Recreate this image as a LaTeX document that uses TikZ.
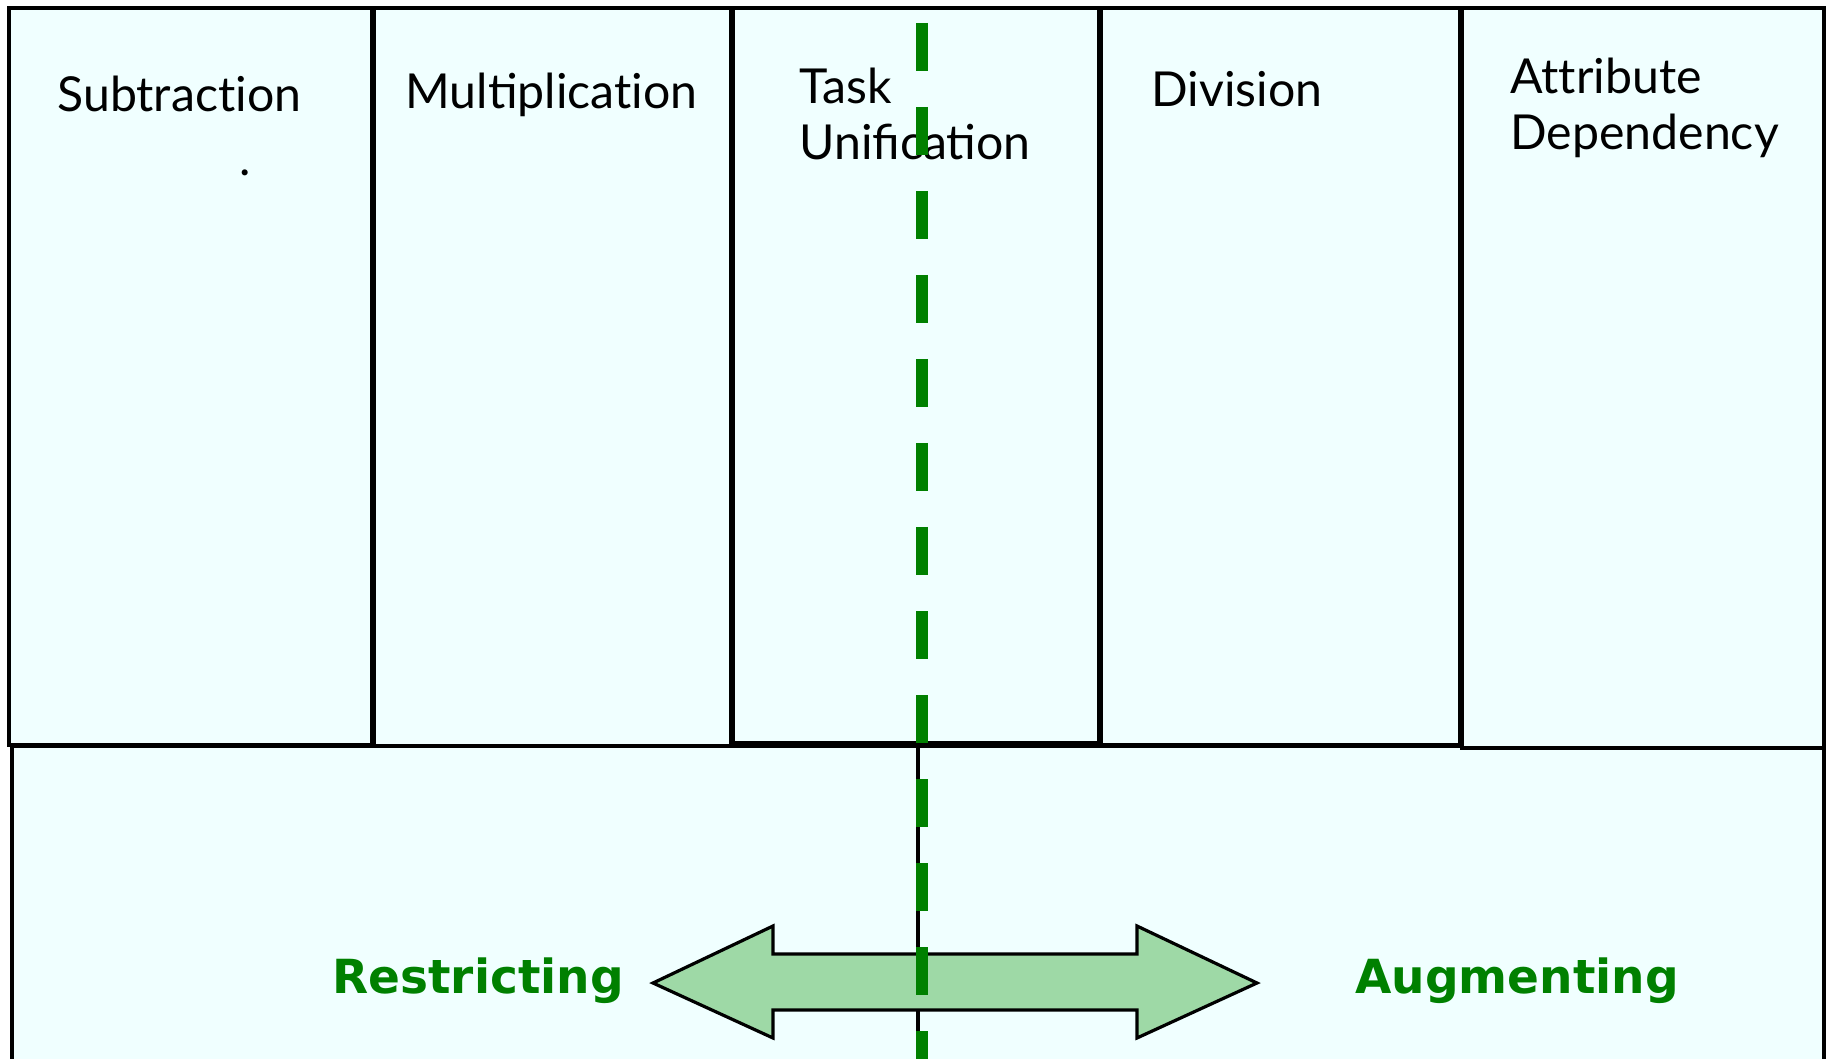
\documentclass[tikz,border=0pt]{standalone}
\usepackage{fontspec}
\setmainfont{Lato}
\newfontfamily\djv{DejaVu Sans}
\definecolor{boxfill}{RGB}{240,255,255}
\definecolor{arrfill}{RGB}{158,217,166}
\definecolor{dgreen}{RGB}{0,128,0}
\begin{document}
\begin{tikzpicture}[x=0.5pt,y=-0.5pt,
  box/.style={draw=black,fill=boxfill,line width=1.6pt},
  lab/.style={inner sep=0pt,anchor=base west,font=\fontsize{24.1pt}{29pt}\selectfont},
  glab/.style={inner sep=0pt,anchor=base west,text=dgreen,font=\djv\bfseries\fontsize{23.5pt}{28pt}\selectfont},
  gdash/.style={draw=dgreen,line width=6pt,dash pattern=on 24pt off 18pt}]
\useasboundingbox (0,0) rectangle (1828,1059);
\fill[white] (0,0) rectangle (1828,1059);
\begin{scope}
\clip (0,0) rectangle (1828,1059);
% lower box
\path[box] (12,1075) -- (12,746) -- (1824,746) -- (1824,1075);
\fill[boxfill] (13.6,747.6) rectangle (1822.4,1075);
% upper boxes
\path[box] (9,8) rectangle (372,745);
\path[box] (374,8) rectangle (731,746);
\path[box] (733,8) rectangle (1099,743);
\path[box] (1101,8) rectangle (1460,745);
\path[box] (1462,8) rectangle (1824,748);
% black divider in lower box
\coordinate (divtop) at (918,746);
\coordinate (divbot) at (918,1075);
\draw[line width=1.6pt] (divtop) -- (divbot);
% double arrow
\path[draw=black,fill=arrfill,line width=1.6pt,line join=miter]
  (653,983) -- (773,926) -- (773,954) -- (1137,954) -- (1137,926) -- (1257,983)
  -- (1137,1038) -- (1137,1010) -- (773,1010) -- (773,1038) -- cycle;
% labels
\node[lab] (sub) at (57,112) {Subtract\kern0pt ion};
\node[lab] (dot) at (239,176) {.};
\node[lab] (mul) at (405,109) {Multiplicat\kern0pt ion};
\node[lab] (task1) at (799,104) {Task};
\node[lab] (task2) at (799,160) {Unification};
\node[lab] (div) at (1151,107) {Division};
\node[lab] (att1) at (1510,94) {At\kern0pt t\kern0pt ribute};
\node[lab] (att2) at (1510,150) {Dependency};
\node[glab] (res) at (332,993) {Restricting};
\node[glab] (aug) at (1355,993) {Augmenting};
% green dashed line
\coordinate (gtop) at (922,23);
\coordinate (gbot) at (922,1075);
\draw[gdash] (gtop) -- (gbot);
\end{scope}
\end{tikzpicture}
\end{document}
